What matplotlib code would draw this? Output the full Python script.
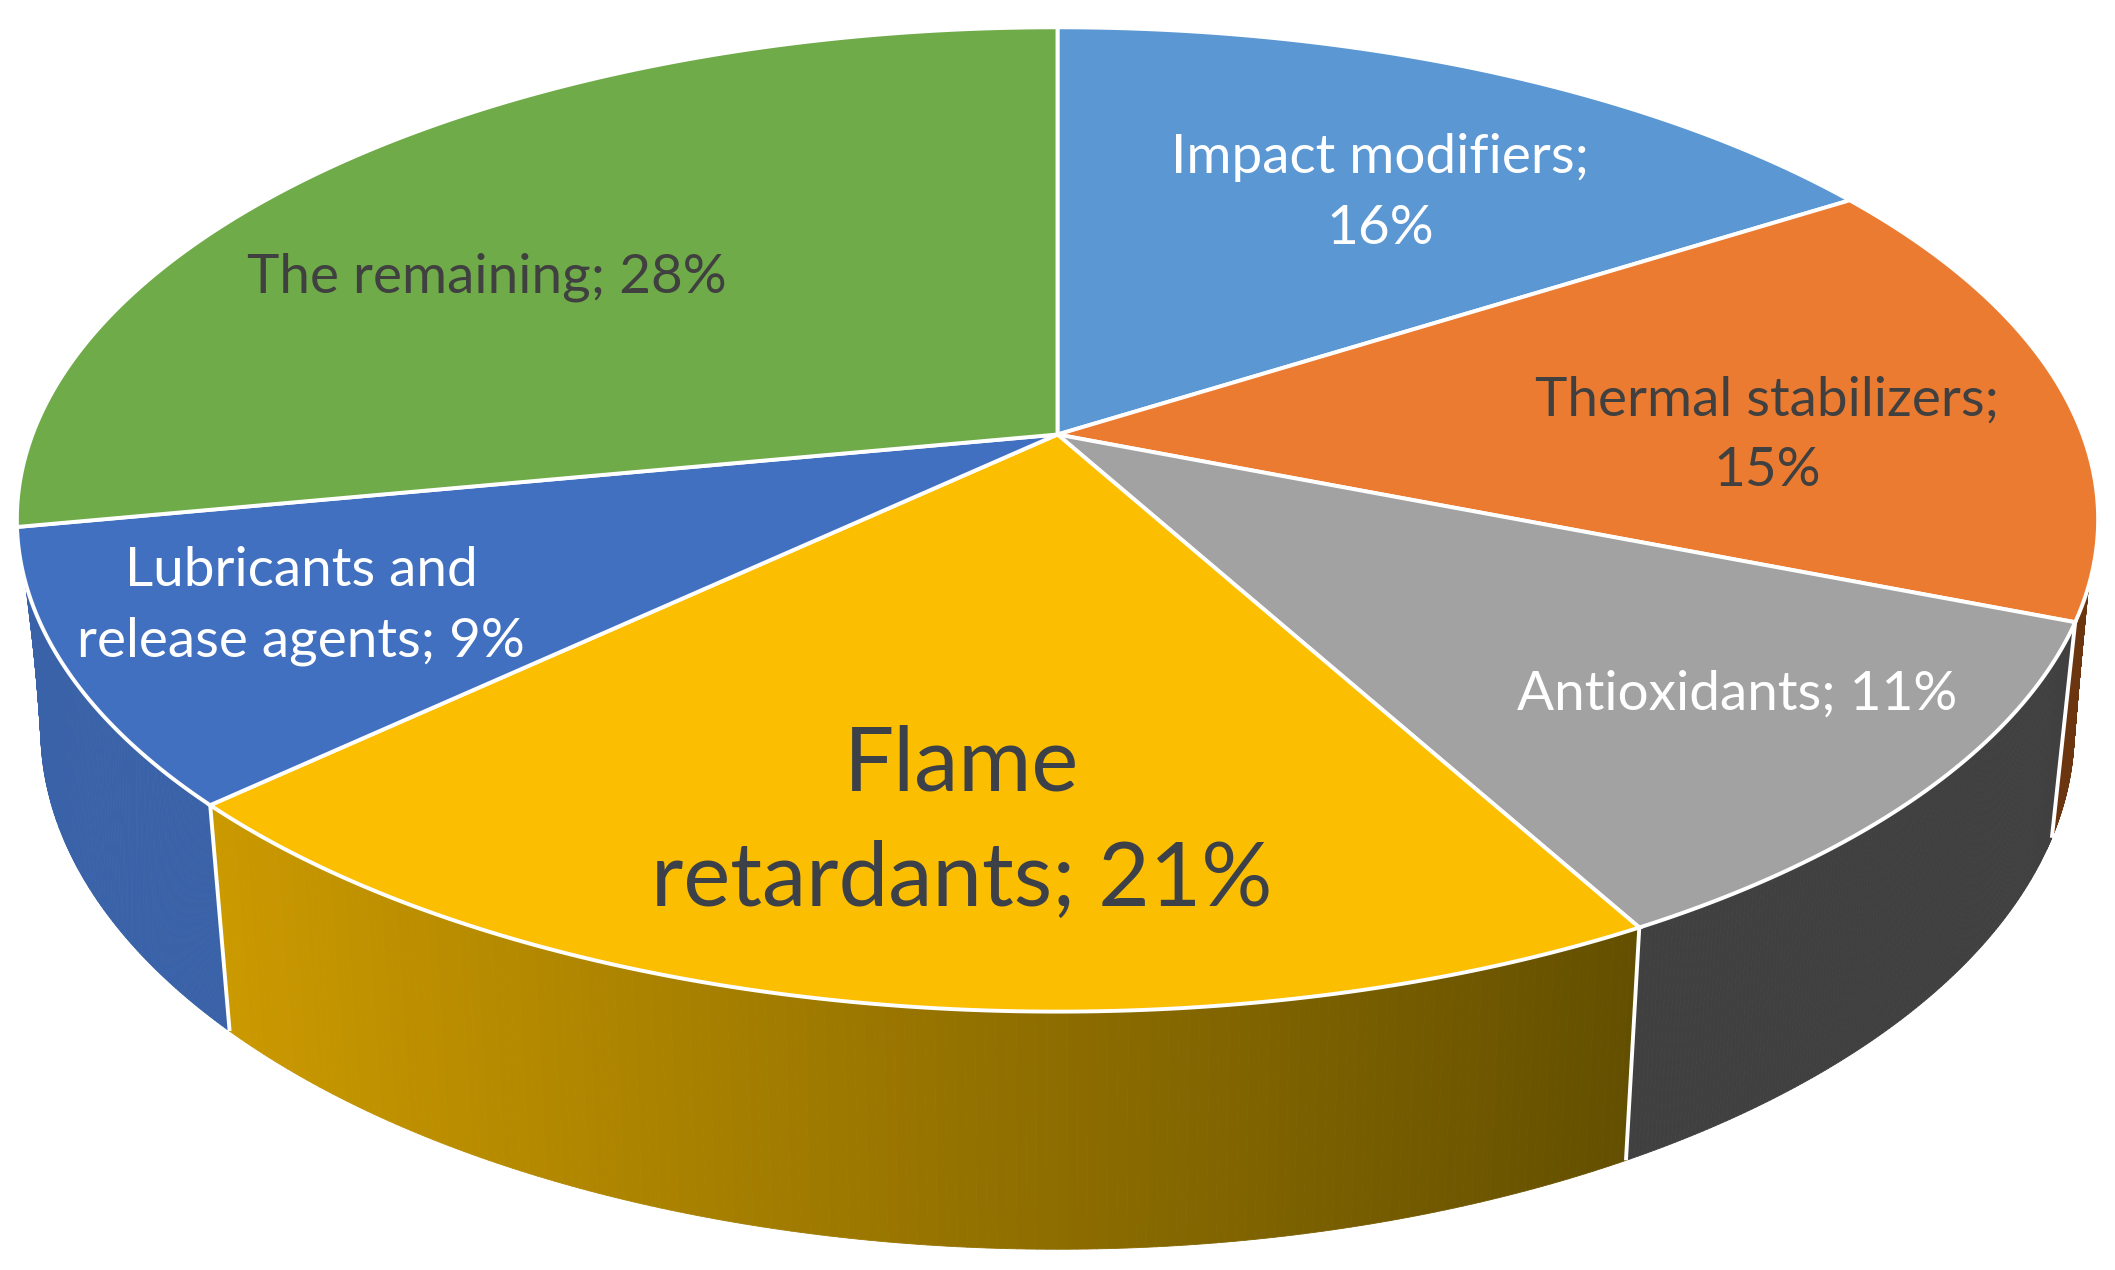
import numpy as np
import matplotlib
matplotlib.use("Agg")
import matplotlib.pyplot as plt
from matplotlib.collections import PolyCollection
from matplotlib.colors import to_rgb

# Data
categories = ["Impact modifiers", "Thermal stabilizers", "Antioxidants",
              "Flame retardants", "Lubricants and release agents", "The remaining"]
values = [16, 15, 11, 21, 9, 28]
labels = ["Impact modifiers;\n16%", "Thermal stabilizers;\n15%", "Antioxidants; 11%",
          "Flame\nretardants; 21%", "Lubricants and\nrelease agents; 9%", "The remaining; 28%"]
top_colors = ["#5A97D3", "#EB7B31", "#A2A2A2", "#FBBE00", "#4270C0", "#70AB49"]
text_colors = ["white", "#404040", "white", "#3C4048", "white", "#404040"]
font_sizes = [39.5, 39.5, 39.5, 64, 39.5, 39.5]
line_spacing = [1.54, 1.54, 1.54, 1.50, 1.54, 1.54]
label_xy = [(1380, 193), (1767, 435), (1737, 694), (962, 823), (301, 606), (487, 277)]

W, H = 2115, 1270
fig = plt.figure(figsize=(W / 100, H / 100), dpi=100, facecolor="white")
ax = fig.add_axes([0, 0, 1, 1])
ax.set_xlim(0, W)
ax.set_ylim(H, 0)
ax.axis("off")

# Perspective projection of the pie's upper and lower discs
CX, K = 1057.5, 0.1726
def top(t):
    X, Y = np.sin(t), np.cos(t)
    w = 1 + K * Y
    return CX + 1025 * X / w, 434.5 - 477.5 * Y / w
def low(t):
    X, Y = np.sin(t), np.cos(t)
    w = 1 + K * Y
    return CX + 1001.5 * X / w, 639.5 - 504.5 * Y / w

edges = 2 * np.pi * np.cumsum([0] + values) / sum(values)

def lerp(c1, c2, f):
    c1, c2 = np.array(to_rgb(c1)), np.array(to_rgb(c2))
    return tuple(c1 + (c2 - c1) * f)

def side(t1, t2, b1, b2, c_left, c_right, n=160):
    ts = np.linspace(t1, t2, n + 1)
    bs = np.linspace(b1, b2, n + 1)
    tx, ty = top(ts)
    bx, by = low(bs)
    polys, cols = [], []
    xmin, xmax = min(tx.min(), bx.min()), max(tx.max(), bx.max())
    for i in range(n):
        polys.append([(tx[i], ty[i]), (tx[i + 1], ty[i + 1]), (bx[i + 1], by[i + 1]), (bx[i], by[i])])
        f = ((tx[i] + bx[i]) / 2 - xmin) / (xmax - xmin)
        cols.append(lerp(c_left, c_right, f))
    ax.add_collection(PolyCollection(polys, facecolors=cols, edgecolors=cols, linewidths=0.6, zorder=1))

d = np.deg2rad
# Side walls, visible slices only
side(d(107.5), edges[2], d(100), edges[2], "#6B3510", "#6B3510")
side(edges[2], edges[3], edges[2], edges[3], "#404040", "#404040")
side(edges[3], edges[4], edges[3], edges[4], "#CC9A00", "#634F00")
# Blue wall runs on to the left silhouette
side(edges[4], d(253), edges[4], d(262), "#3A62A8", "#3A62A8")

# White separators between side walls
for e in edges[2:5]:
    x0, y0 = top(e)
    x1, y1 = low(e)
    ax.plot([x0, x1], [y0, y1], color="white", lw=2.8, zorder=2, solid_capstyle="butt")

# Top face wedges
for i in range(len(values)):
    t = np.linspace(edges[i], edges[i + 1], 200)
    x, y = top(t)
    px = np.r_[CX, x]
    py = np.r_[434.5, y]
    ax.fill(px, py, facecolor=top_colors[i], edgecolor="white", lw=2.8, joinstyle="miter", zorder=3)

# Labels
for lab, (x, y), c, fs, ls in zip(labels, label_xy, text_colors, font_sizes, line_spacing):
    ax.text(x, y, lab, color=c, fontsize=fs, family="Lato", ha="center", va="center",
            multialignment="center", linespacing=ls, zorder=4)

fig.savefig("out.png", dpi=100, facecolor="white")
